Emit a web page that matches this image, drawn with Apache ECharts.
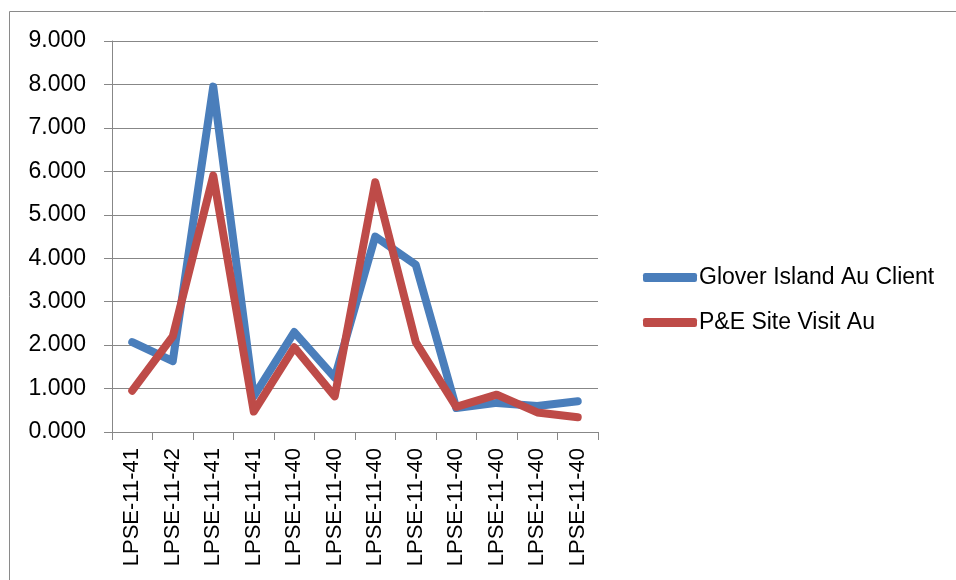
<!DOCTYPE html>
<html>
<head>
<meta charset="utf-8">
<script src="https://cdn.jsdelivr.net/npm/echarts@6/dist/echarts.min.js"></script>
<style>
  html, body { margin: 0; padding: 0; background: #ffffff; }
  #chart { width: 956px; height: 580px; }
</style>
</head>
<body>
<div id="chart"></div>
<script>
// Sample labels along the x axis
var categories = [
  'LPSE-11-41', 'LPSE-11-42', 'LPSE-11-41', 'LPSE-11-41',
  'LPSE-11-40', 'LPSE-11-40', 'LPSE-11-40', 'LPSE-11-40',
  'LPSE-11-40', 'LPSE-11-40', 'LPSE-11-40', 'LPSE-11-40'
];

// Au grades per sample
var seriesNames = ['Glover Island Au Client', 'P&E Site Visit Au'];
var gloverAu = [2.07, 1.63, 7.95, 0.82, 2.30, 1.25, 4.50, 3.85, 0.55, 0.67, 0.60, 0.71];
var peAu     = [0.95, 2.20, 5.90, 0.47, 1.95, 0.82, 5.75, 2.07, 0.58, 0.86, 0.45, 0.34];

var FONT = '"Liberation Sans", Arial, sans-serif';
var GRAY = '#878787';

var chart = echarts.init(document.getElementById('chart'), null, { renderer: 'canvas' });

function lineSeries(name, data, color) {
  return {
    name: name,
    type: 'line',
    data: data,
    showSymbol: false,
    symbol: 'none',
    animation: false,
    lineStyle: { color: color, width: 8, cap: 'round', join: 'round' },
    itemStyle: { color: color }
  };
}

chart.setOption({
  animation: false,
  backgroundColor: '#ffffff',
  graphic: [{
    type: 'rect',
    shape: { x: 9.5, y: 11.5, width: 960, height: 600 },
    style: { fill: 'none', stroke: '#8a8a8a', lineWidth: 1 },
    silent: true,
    z: -1
  }],
  grid: { left: 112, right: 358, top: 41, bottom: 148, containLabel: false },
  legend: {
    orient: 'vertical',
    left: 638,
    top: 261,
    itemWidth: 54,
    itemHeight: 9,
    itemGap: 22,
    icon: 'roundRect',
    textStyle: { fontFamily: FONT, fontSize: 23, color: '#000000', padding: [0, 0, 0, -3] },
    data: seriesNames
  },
  xAxis: {
    type: 'category',
    data: categories,
    boundaryGap: true,
    axisLine: { lineStyle: { color: GRAY, width: 1 } },
    axisTick: { show: true, length: 8, inside: false, lineStyle: { color: GRAY } },
    axisLabel: {
      rotate: 90,
      interval: 0,
      margin: 16,
      fontFamily: FONT,
      fontSize: 22,
      color: '#000000'
    },
    splitLine: { show: false }
  },
  yAxis: {
    type: 'value',
    min: 0,
    max: 9,
    interval: 1,
    axisLine: { show: true, lineStyle: { color: GRAY, width: 1 } },
    axisTick: { show: true, length: 8, inside: false, lineStyle: { color: GRAY } },
    axisLabel: {
      margin: 26,
      fontFamily: FONT,
      fontSize: 23,
      color: '#000000',
      formatter: function (v) { return v.toFixed(3); }
    },
    splitLine: { show: true, lineStyle: { color: GRAY, width: 1 } }
  },
  series: [
    lineSeries(seriesNames[0], gloverAu, '#4A7EBB'),
    lineSeries(seriesNames[1], peAu, '#BE4B48')
  ]
});
</script>
</body>
</html>
